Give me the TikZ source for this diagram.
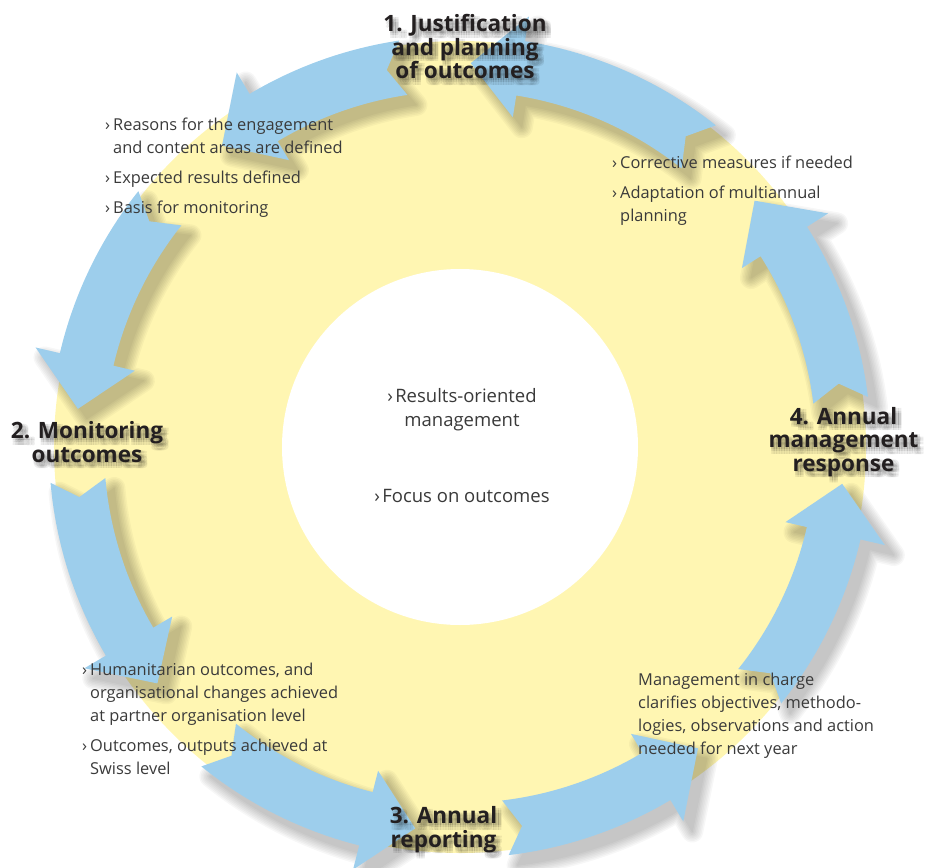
\documentclass[tikz,border=0pt]{standalone}
\usepackage{fontspec}
\setmainfont{Open Sans}
\definecolor{cycleblue}{RGB}{157,206,236}
\definecolor{cycleyellow}{RGB}{255,246,178}
\definecolor{bodygray}{RGB}{58,58,58}
\definecolor{headblack}{RGB}{35,31,32}
% small chevron in front of each point
\newcommand\chev{\makebox[8pt][l]{›}}

\begin{document}
\begin{tikzpicture}[x=1pt,y=1pt,
  band/.style={fill=cycleblue,draw=none},
  bandshadow/.style={fill=black,draw=black,line join=round,shift={(9,-10)}},
  heading/.style={align=center,anchor=base,inner sep=0pt,font=\fontsize{22.5}{23.5}\selectfont\bfseries,text=headblack},
  notes/.style={align=left,anchor=base west,inner sep=0pt,font=\fontsize{16.4}{23}\selectfont,text=bodygray}]

\useasboundingbox (-460,-420) rectangle (465,447);

% disk and hub
\fill[cycleyellow] (0,0) circle[radius=406];
\fill[white] (0,0) circle[radius=178];

% eight curved arrows, tail/tip angles
\foreach \t/\p in {98.5/128.3,141.5/174.3,185/218,231/263.3,276.8/308.3,321.4/354.5,7/39.9,51.5/88.4}{
  \pgfmathsetmacro\h{\p-7.5}
  \pgfmathsetmacro\n{\t+2.5}
  \def\arrowpath{(\t:411) arc[start angle=\t,end angle=\h,radius=411] -- (\h:436) -- (\p:384)
    -- (\h:334) -- (\h:356) arc[start angle=\h,end angle=\t,radius=356] -- (\n:384) -- cycle}
  % soft shadow: widening layers, each one a single transparent group
  \foreach \w in {22,19,...,1}{
    \begin{scope}[transparency group,opacity=.032]
      \filldraw[bandshadow,line width=\w pt] \arrowpath;
    \end{scope}
  }
  \fill[band] \arrowpath;
}

% step titles with a soft drop shadow (anchored on their last line)
\foreach \name/\x/\y/\txt in {one/5/368/{1. Justification\\and planning\\of outcomes},
    two/-373/-15/{2. Monitoring\\outcomes},
    three/-16.5/-400/{3. Annual\\reporting},
    four/383.5/-24/{4. Annual\\management\\response}}{
  \foreach \dx in {1,3.5,6} \foreach \dy in {-1.5,-4,-6.5}
    \node[heading,text=black,text opacity=.07] (\name-\dx\dy) at (\x+\dx,\y+\dy) {\txt};
  \node[heading] (\name) at (\x,\y) {\txt};
}

% notes
\node[notes] (reasons) at (-355,233) {\chev Reasons for the engagement\\\hphantom{\chev}and content areas are defined\\[7pt]
  \chev Expected results defined\\[7pt]\chev Basis for monitoring};
\node[notes] (corrective) at (152,225) {\chev Corrective measures if needed\\[7pt]
  \chev Adaptation of multiannual\\\hphantom{\chev}planning};
\node[notes] (humanitarian) at (-378,-327) {\chev Humanitarian outcomes, and\\\hphantom{\chev}organisational changes achieved\\
  \hphantom{\chev}at partner organisation level\\[7pt]\chev Outcomes, outputs achieved at\\\hphantom{\chev}Swiss level};
\node[notes] (charge) at (178,-307) {Management in charge\\clarifies objectives, methodo-\\logies, observations and action\\needed for next year};
\node[notes,align=center,anchor=base,font=\fontsize{18.5}{24}\selectfont] (hub) at (2,-55)
  {\chev Results-oriented\\management\\[52pt]\chev Focus on outcomes};
\end{tikzpicture}
\end{document}
